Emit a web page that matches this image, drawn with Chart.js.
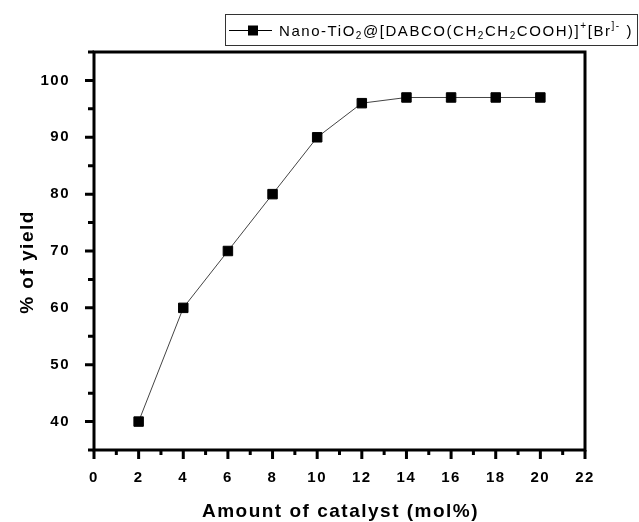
<!DOCTYPE html>
<html><head><meta charset="utf-8">
<script src="https://cdn.jsdelivr.net/npm/chart.js@4"></script>
<style>html,body{margin:0;padding:0;background:#fff}</style>
</head><body>
<canvas id="c" width="639" height="522"></canvas>
<script>
const catalystAmounts = [2, 4, 6, 8, 10, 12, 14, 16, 18, 20];
const yieldValues = [40, 60, 70, 80, 90, 96, 97, 97, 97, 97];
const xTickLabels = ['0','2','4','6','8','10','12','14','16','18','20','22'];
const yTickLabels = ['40','50','60','70','80','90','100'];
const xTitle = 'Amount of catalyst (mol%)';
const yTitle = '% of yield';
// legend text runs: [text, mode]  (n = normal, b = subscript, p = superscript)
const legendRuns = [
  ['Nano-TiO','n'],['2','b'],['@[DABCO(CH','n'],['2','b'],['CH','n'],['2','b'],
  ['COOH)]','n'],['+','p'],['[Br','n'],[']-','p'],[' )','n']
];
const FONT = "'Liberation Sans', Arial, sans-serif";

const decor = {
  id: 'decor',
  beforeDraw(chart) { chart.ctx.letterSpacing = '1.5px'; },
  afterDraw(chart) {
    const ctx = chart.ctx;
    ctx.letterSpacing = '0px';
    const a = chart.chartArea, xs = chart.scales.x, ys = chart.scales.y;
    ctx.save();
    ctx.strokeStyle = '#000';
    ctx.lineWidth = 3;
    ctx.lineCap = 'butt';
    ctx.strokeRect(a.left, a.top, a.right - a.left, a.bottom - a.top);
    ctx.beginPath();
    xs.ticks.forEach(t => {
      const px = xs.getPixelForValue(t.value);
      const len = xTickLabels.includes(String(t.value)) ? 9 : 5;
      ctx.moveTo(px, a.bottom); ctx.lineTo(px, a.bottom + len);
    });
    ys.ticks.forEach(t => {
      const py = ys.getPixelForValue(t.value);
      const len = yTickLabels.includes(String(t.value)) ? 9 : 6;
      ctx.moveTo(a.left, py); ctx.lineTo(a.left - len, py);
    });
    ctx.stroke();

    // axis titles
    ctx.fillStyle = '#000';
    ctx.font = 'bold 19px ' + FONT;
    ctx.letterSpacing = '1.5px';
    ctx.textAlign = 'center';
    ctx.textBaseline = 'alphabetic';
    ctx.fillText(xTitle, (a.left + a.right) / 2 + 1, 517);
    ctx.save();
    ctx.translate(33, 262);
    ctx.rotate(-Math.PI / 2);
    ctx.fillText(yTitle, 0, 0);
    ctx.restore();

    // legend
    ctx.letterSpacing = '0px';
    ctx.lineWidth = 1;
    ctx.strokeStyle = '#333';
    ctx.strokeRect(225.5, 14.5, 412, 31);
    ctx.strokeStyle = '#000';
    ctx.beginPath(); ctx.moveTo(229, 30.5); ctx.lineTo(272, 30.5); ctx.stroke();
    ctx.fillStyle = '#000';
    ctx.fillRect(248, 25.5, 10, 10);
    const fontFor = m => (m === 'n' ? '15px ' : '10px ') + FONT;
    let w = 0, n = 0;
    legendRuns.forEach(([t, m]) => { ctx.font = fontFor(m); w += ctx.measureText(t).width; n += t.length; });
    const ls = Math.max(0, (633 - 279 - w) / n);
    ctx.letterSpacing = ls.toFixed(2) + 'px';
    ctx.textAlign = 'left';
    let x = 279;
    const base = 35.7;
    legendRuns.forEach(([t, m]) => {
      ctx.font = fontFor(m);
      const y = m === 'b' ? base + 3 : (m === 'p' ? base - 7 : base);
      ctx.fillText(t, x, y);
      x += ctx.measureText(t).width;
    });
    ctx.restore();
  }
};

new Chart(document.getElementById('c'), {
  type: 'line',
  data: {
    datasets: [{
      label: 'Nano-TiO₂@[DABCO(CH₂CH₂COOH)]⁺[Br]⁻',
      data: catalystAmounts.map((x, i) => ({ x, y: yieldValues[i] })),
      borderColor: '#444',
      borderWidth: 1,
      pointStyle: 'rect',
      pointRadius: 6.7,
      pointBackgroundColor: '#000',
      pointBorderColor: '#000',
      pointBorderWidth: 1,
      tension: 0,
      fill: false
    }]
  },
  options: {
    responsive: false,
    animation: false,
    devicePixelRatio: 1,
    layout: { padding: { left: 0, top: 52, right: 54, bottom: 0 } },
    plugins: { legend: { display: false }, tooltip: { enabled: false } },
    scales: {
      x: {
        type: 'linear', min: 0, max: 22,
        afterFit(s) { s.height = 72; },
        grid: { display: false }, border: { display: false },
        ticks: {
          stepSize: 1, autoSkip: false, maxRotation: 0, padding: 11, color: '#000',
          font: { family: FONT, size: 15, weight: 'bold' },
          callback: v => xTickLabels.includes(String(v)) ? String(v) : ''
        }
      },
      y: {
        type: 'linear', min: 35, max: 105,
        afterFit(s) { s.width = 94; },
        grid: { display: false }, border: { display: false },
        ticks: {
          stepSize: 5, autoSkip: false, padding: 16, color: '#000',
          font: { family: FONT, size: 15, weight: 'bold' },
          callback: v => yTickLabels.includes(String(v)) ? String(v) : ''
        }
      }
    }
  },
  plugins: [decor]
});
</script>
</body></html>
